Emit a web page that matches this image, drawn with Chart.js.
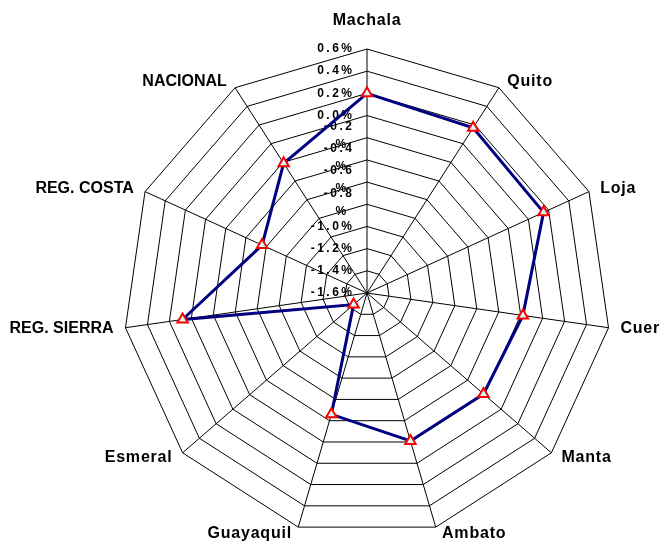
<!DOCTYPE html>
<html><head><meta charset="utf-8">
<script src="https://cdn.jsdelivr.net/npm/chart.js@4/dist/chart.umd.min.js"></script>
<style>html,body{margin:0;padding:0;background:#fff;overflow:hidden}#wrap{width:661px;height:542px}</style>
</head><body><div id="wrap"><canvas id="c" width="661" height="542"></canvas></div>
<script>
const categories = ['Machala','Quito','Loja','Cuer','Manta','Ambato','Guayaquil','Esmeral','REG. SIERRA','REG. COSTA','NACIONAL'];
const values = [0.20, 0.17, 0.15, -0.18, -0.21, -0.21, -0.46, -1.44, 0.08, -0.56, -0.21];
const tickValues = [0.6, 0.4, 0.2, 0.0, -0.2, -0.4, -0.6, -0.8, -1.0, -1.2, -1.4, -1.6];
const tickLabels = ['0.6%','0.4%','0.2%','0.0%','-0.2\n%','-0.4\n%','-0.6\n%','-0.8\n%','-1.0%','-1.2%','-1.4%','-1.6%'];

const labelPlugin = {
  id: 'customLabels',
  beforeDatasetsDraw(chart) {
    const s = chart.scales.r, ctx = chart.ctx;
    ctx.save();
    ctx.font = 'bold 12px "Liberation Sans", Arial, sans-serif';
    ctx.letterSpacing = '2.5px';
    ctx.fillStyle = '#000';
    ctx.textBaseline = 'middle';
    const right = s.xCenter - 15;
    tickValues.forEach((v, i) => {
      const y = s.yCenter - s.getDistanceFromCenterForValue(v);
      const lines = tickLabels[i].split('\n');
      if (lines.length === 1) {
        ctx.textAlign = 'right';
        ctx.fillText(lines[0], right + 2.5, y);
      } else {
        const w = ctx.measureText(lines[0]).width;
        const cxl = right - w / 2 + 2.5;
        ctx.textAlign = 'center';
        ctx.fillText(lines[0], cxl, y - 11);
        ctx.fillText(lines[1], cxl + 3, y + 7);
      }
    });
    ctx.restore();
  },
  afterDraw(chart) {
    const s = chart.scales.r, ctx = chart.ctx;
    const R = s.drawingArea;
    ctx.save();
    ctx.font = 'bold 16px "Liberation Sans", Arial, sans-serif';
    ctx.fillStyle = '#000';
    ctx.textBaseline = 'middle';
    categories.forEach((name, i) => {
      const p = s.getPointPosition(i, R);
      const a = i * 2 * Math.PI / categories.length;
      const sn = Math.sin(a), cs = Math.cos(a);
      ctx.letterSpacing = /[a-z]/.test(name) ? '0.8px' : '0px';
      let x, y, align;
      if (Math.abs(sn) < 0.01) { align = 'center'; x = p.x; y = p.y - 28; }
      else if (sn > 0) { align = 'left'; x = p.x + 4 + 8 * sn; y = p.y - 7 * cs; }
      else { align = 'right'; x = p.x - 4 + 8 * sn; y = p.y - 7 * cs; }
      ctx.textAlign = align;
      ctx.fillText(name, x, y);
    });
    ctx.restore();
  }
};

new Chart(document.getElementById('c'), {
  type: 'radar',
  data: {
    labels: categories,
    datasets: [{
      data: values,
      borderColor: '#000080',
      borderWidth: 3,
      fill: false,
      tension: 0,
      pointStyle: 'triangle',
      pointRadius: 6,
      pointBorderWidth: 2,
      pointBorderColor: '#ff0000',
      pointBackgroundColor: '#ccffff'
    }]
  },
  options: {
    responsive: false,
    animation: false,
    devicePixelRatio: 1,
    layout: { padding: { left: 123, right: 50, top: 49, bottom: 5 } },
    plugins: { legend: { display: false }, tooltip: { enabled: false } },
    scales: {
      r: {
        min: -1.6, max: 0.6,
        ticks: { display: false, stepSize: 0.2 },
        grid: { circular: false, color: '#000', lineWidth: 1 },
        angleLines: { color: '#000', lineWidth: 1 },
        pointLabels: { display: false }
      }
    }
  },
  plugins: [labelPlugin]
});
</script>
</body></html>
